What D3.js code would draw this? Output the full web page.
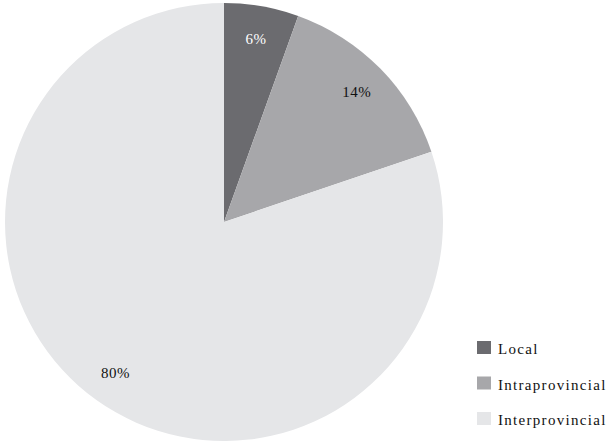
<!DOCTYPE html>
<html><head><meta charset="utf-8">
<script src="https://cdn.jsdelivr.net/npm/d3@7"></script>
<style>body{margin:0;background:#fff}svg{display:block}</style>
</head><body>
<svg id="c" width="616" height="447"></svg>
<script>
const categories = ["Local", "Intraprovincial", "Interprovincial"];
const values = [5.5, 14.3, 80.2];
const labels = ["6%", "14%", "80%"];
const colors = ["#6b6b6f", "#a7a7aa", "#e5e6e8"];
const labelColors = ["#ffffff", "#111111", "#111111"];
const FONT = "Liberation Serif";

const svg = d3.select("#c");
const cx = 224, cy = 222, r = 219;
const g = svg.append("g").attr("transform", `translate(${cx},${cy})`);
const pie = d3.pie().sort(null).value(d => d)(values);
const arc = d3.arc().innerRadius(0).outerRadius(r);
const labelArc = d3.arc().innerRadius(186).outerRadius(186);
const color = d3.scaleOrdinal().domain(categories).range(colors);

g.selectAll("path").data(pie).enter().append("path")
  .attr("d", arc).attr("fill", (d, i) => color(categories[i]));

g.selectAll("text").data(pie).enter().append("text")
  .attr("transform", d => `translate(${labelArc.centroid(d)})`)
  .attr("text-anchor", "middle").attr("dy", "0.35em")
  .style("font-family", FONT).style("font-size", "15px").style("letter-spacing", "0.5px")
  .attr("fill", (d, i) => labelColors[i])
  .text((d, i) => labels[i]);

const leg = svg.append("g").attr("transform", "translate(477,341)");
const items = leg.selectAll("g").data(categories).enter().append("g")
  .attr("transform", (d, i) => `translate(0,${i * 35.5})`);
items.append("rect").attr("width", 14).attr("height", 13).attr("fill", d => color(d));
items.append("text").attr("x", 21).attr("y", 13)
  .style("font-family", FONT).style("font-size", "15px").style("letter-spacing", "1.3px")
  .attr("fill", "#111").text(d => d);
</script>
</body></html>
